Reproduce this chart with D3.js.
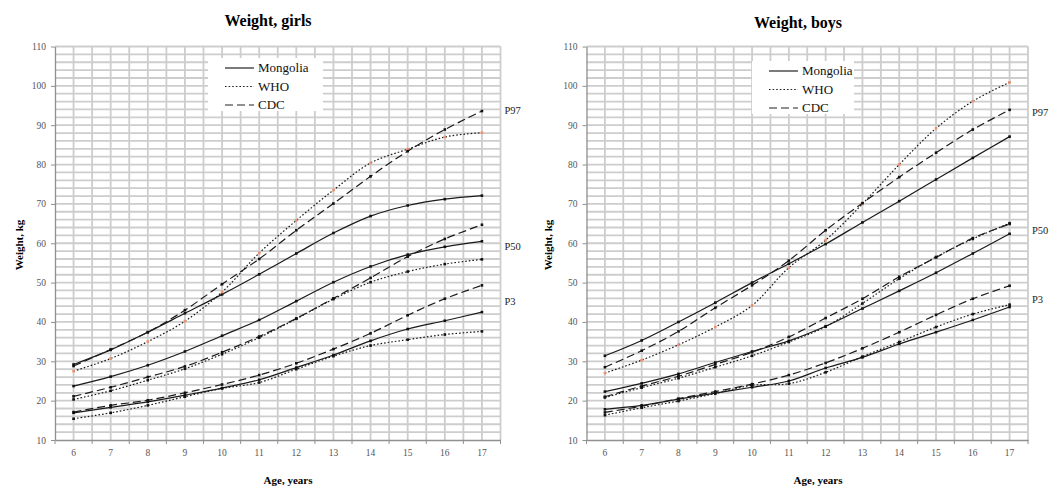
<html>
<head>
<meta charset="utf-8">
<title>Weight, girls and boys</title>
<script src="https://cdn.jsdelivr.net/npm/d3@7"></script>
<style>
  body { margin: 0; background: #fff; }
  text { font-family: "Liberation Serif", "Times New Roman", serif; }
</style>
</head>
<body>
<script>
// data
var ages = ["6", "7", "8", "9", "10", "11", "12", "13", "14", "15", "16", "17"];
var yTicks = [10, 20, 30, 40, 50, 60, 70, 80, 90, 100, 110];
var seriesNames = ["Mongolia", "WHO", "CDC"];
var percentileLabels = ["P97", "P50", "P3"];

var girlsMongoliaP97 = [29.2, 32.9, 37.4, 42.2, 47.0, 52.1, 57.4, 62.6, 66.9, 69.6, 71.2, 72.1];
var girlsWhoP97      = [27.5, 30.7, 35.0, 40.2, 47.6, 57.5, 65.8, 73.5, 80.4, 83.9, 87.0, 88.1];
var girlsCdcP97      = [28.8, 33.0, 37.4, 43.0, 49.6, 56.0, 63.3, 70.1, 77.0, 83.4, 88.9, 93.6];
var girlsMongoliaP50 = [23.7, 26.1, 29.0, 32.5, 36.5, 40.5, 45.3, 50.1, 54.1, 57.1, 59.1, 60.5];
var girlsWhoP50      = [20.3, 22.5, 25.2, 28.1, 31.8, 36.0, 40.8, 45.8, 50.1, 52.8, 54.7, 55.9];
var girlsCdcP50      = [21.1, 23.4, 26.0, 28.7, 32.3, 36.3, 40.9, 46.0, 51.2, 56.6, 61.1, 64.7];
var girlsMongoliaP3  = [16.9, 18.3, 19.7, 21.4, 23.2, 25.3, 28.4, 31.6, 35.2, 38.2, 40.3, 42.5];
var girlsWhoP3       = [15.4, 16.9, 18.8, 21.0, 23.1, 24.6, 28.0, 31.3, 34.0, 35.5, 36.8, 37.6];
var girlsCdcP3       = [17.1, 18.8, 20.1, 22.0, 24.1, 26.5, 29.5, 33.1, 37.1, 41.7, 45.9, 49.3];

var boysMongoliaP97 = [31.4, 35.3, 40.0, 44.9, 50.0, 54.8, 59.8, 65.3, 70.7, 76.2, 81.7, 87.1];
var boysWhoP97      = [27.0, 30.3, 34.2, 38.7, 44.2, 53.8, 60.8, 70.0, 80.0, 89.2, 96.1, 100.9];
var boysCdcP97      = [28.5, 32.7, 37.6, 43.6, 49.3, 55.6, 63.3, 70.2, 76.8, 83.0, 88.9, 93.9];
var boysMongoliaP50 = [22.3, 24.4, 26.8, 29.7, 32.5, 35.2, 38.9, 43.4, 47.9, 52.5, 57.4, 62.4];
var boysWhoP50      = [20.8, 23.3, 25.7, 28.5, 31.4, 34.9, 38.8, 44.7, 51.0, 56.5, 61.1, 65.1];
var boysCdcP50      = [21.0, 23.7, 26.2, 29.2, 32.3, 36.2, 41.0, 45.9, 51.5, 56.4, 61.3, 64.9];
var boysMongoliaP3  = [17.8, 18.8, 20.4, 21.9, 23.4, 25.0, 28.3, 31.0, 34.4, 37.4, 40.5, 43.8];
var boysWhoP3       = [16.3, 18.2, 19.9, 21.8, 23.9, 24.3, 27.2, 31.2, 34.9, 38.7, 42.0, 44.4];
var boysCdcP3       = [17.0, 18.6, 20.5, 22.3, 24.2, 26.5, 29.6, 33.3, 37.4, 41.8, 45.9, 49.2];

// styles per source
var DASH = { "Mongolia": null, "WHO": "1.6,2", "CDC": "8,4" };
var WHO_P97_MARK = "#f0906e";
var GRID = "#cdcdcd";
var AXIS = "#909090";
var FONT = "'Liberation Serif', 'Times New Roman', serif";

var W = 1049, H = 488;
var svg = d3.select("body").append("svg").attr("width", W).attr("height", H);

function drawPanel(p) {
  var g = svg.append("g");
  var x = d3.scaleBand().domain(ages).range([p.x0, p.x1]);
  var y = d3.scaleLinear().domain([10, 110]).range([440, 46.5]);
  var bw = x.bandwidth();
  var cx = function(a) { return x(a) + bw / 2; };

  // grid
  g.selectAll(".hg").data(d3.range(12, 111, 2)).enter().append("line")
    .attr("x1", p.x0).attr("x2", p.x1)
    .attr("y1", function(d) { return y(d); }).attr("y2", function(d) { return y(d); })
    .attr("stroke", GRID).attr("stroke-width", 1.8);
  var vx = [];
  ages.forEach(function(a) { vx.push(x(a)); vx.push(cx(a)); });
  vx.push(p.x1);
  g.selectAll(".vg").data(vx.slice(1)).enter().append("line")
    .attr("x1", function(d) { return d; }).attr("x2", function(d) { return d; })
    .attr("y1", y(110)).attr("y2", y(10))
    .attr("stroke", GRID).attr("stroke-width", 1.8);

  // axes
  var ya = g.append("g").attr("transform", "translate(" + p.x0 + ",0)")
    .call(d3.axisLeft(y).tickValues(yTicks).tickSize(4).tickPadding(5).tickSizeOuter(0));
  var xa = g.append("g").attr("transform", "translate(0,440)")
    .call(d3.axisBottom(x).tickSize(0).tickPadding(9).tickSizeOuter(0));
  [ya, xa].forEach(function(a) {
    a.attr("font-family", FONT);
    a.select(".domain").attr("stroke", AXIS).attr("stroke-width", 1.3);
    a.selectAll(".tick line").attr("stroke", AXIS);
    a.selectAll("text").attr("font-size", 9.5).attr("fill", "#555");
  });
  g.selectAll(".xt").data(ages.map(function(a) { return x(a); }).concat([p.x1])).enter().append("line")
    .attr("x1", function(d) { return d; }).attr("x2", function(d) { return d; })
    .attr("y1", 440).attr("y2", 444).attr("stroke", AXIS);

  // legend box
  var lg = g.append("g");
  lg.append("rect").attr("x", p.lx).attr("y", p.ly).attr("width", p.lw).attr("height", 53).attr("fill", "#fff");
  seriesNames.forEach(function(s, i) {
    var ly = p.ly + 10 + i * 18.5;
    lg.append("line").attr("x1", p.lx + 17).attr("x2", p.lx + 46).attr("y1", ly).attr("y2", ly)
      .attr("stroke", "#222").attr("stroke-width", 1.2).attr("stroke-dasharray", DASH[s]);
    lg.append("text").attr("x", p.lx + 50).attr("y", ly + 4).attr("font-size", 13).attr("fill", "#111").text(s);
  });

  // lines
  var line = d3.line()
    .x(function(d) { return cx(d.age); })
    .y(function(d) { return y(d.v); })
    .curve(d3.curveCatmullRom.alpha(0.5));
  p.series.forEach(function(sr) {
    var pts = ages.map(function(a, i) { return { age: a, v: sr.values[i] }; });
    g.append("path").datum(pts).attr("d", line).attr("fill", "none")
      .attr("stroke", "#1a1a1a").attr("stroke-width", 1.2).attr("stroke-dasharray", DASH[sr.src]);
    g.selectAll(null).data(pts).enter().append("rect")
      .attr("x", function(d) { return cx(d.age) - 1.3; }).attr("y", function(d) { return y(d.v) - 1.3; })
      .attr("width", 2.6).attr("height", 2.6)
      .attr("fill", sr.src === "WHO" && sr.pct === "P97" ? WHO_P97_MARK : "#111");
  });

  // percentile labels
  percentileLabels.forEach(function(t, i) {
    g.append("text").attr("x", p.x1 + 4).attr("y", p.pctY[i] + 4)
      .attr("font-size", 10.5).attr("fill", "#222").text(t);
  });

  // titles
  g.append("text").attr("x", p.tx).attr("y", p.ty).attr("text-anchor", "middle")
    .attr("font-size", 16).attr("font-weight", "bold").text(p.title);
  g.append("text").attr("x", p.tx + 20).attr("y", 484).attr("text-anchor", "middle")
    .attr("font-size", 11).attr("font-weight", "bold").text("Age, years");
  g.append("text").attr("transform", "translate(" + p.yl + ",245) rotate(-90)").attr("text-anchor", "middle")
    .attr("font-size", 11).attr("font-weight", "bold").text("Weight, kg");
}

drawPanel({
  title: "Weight, girls", tx: 268, ty: 26, x0: 55, x1: 500.5, yl: 23,
  lx: 208, ly: 58, lw: 115, pctY: [110, 246, 301],
  series: [
    { src: "Mongolia", pct: "P97", values: girlsMongoliaP97 },
    { src: "WHO", pct: "P97", values: girlsWhoP97 },
    { src: "CDC", pct: "P97", values: girlsCdcP97 },
    { src: "Mongolia", pct: "P50", values: girlsMongoliaP50 },
    { src: "WHO", pct: "P50", values: girlsWhoP50 },
    { src: "CDC", pct: "P50", values: girlsCdcP50 },
    { src: "Mongolia", pct: "P3", values: girlsMongoliaP3 },
    { src: "WHO", pct: "P3", values: girlsWhoP3 },
    { src: "CDC", pct: "P3", values: girlsCdcP3 }
  ]
});

drawPanel({
  title: "Weight, boys", tx: 798, ty: 28, x0: 586.5, x1: 1028, yl: 552,
  lx: 752, ly: 61, lw: 102, pctY: [112, 230, 299],
  series: [
    { src: "Mongolia", pct: "P97", values: boysMongoliaP97 },
    { src: "WHO", pct: "P97", values: boysWhoP97 },
    { src: "CDC", pct: "P97", values: boysCdcP97 },
    { src: "Mongolia", pct: "P50", values: boysMongoliaP50 },
    { src: "WHO", pct: "P50", values: boysWhoP50 },
    { src: "CDC", pct: "P50", values: boysCdcP50 },
    { src: "Mongolia", pct: "P3", values: boysMongoliaP3 },
    { src: "WHO", pct: "P3", values: boysWhoP3 },
    { src: "CDC", pct: "P3", values: boysCdcP3 }
  ]
});
</script>
</body>
</html>
